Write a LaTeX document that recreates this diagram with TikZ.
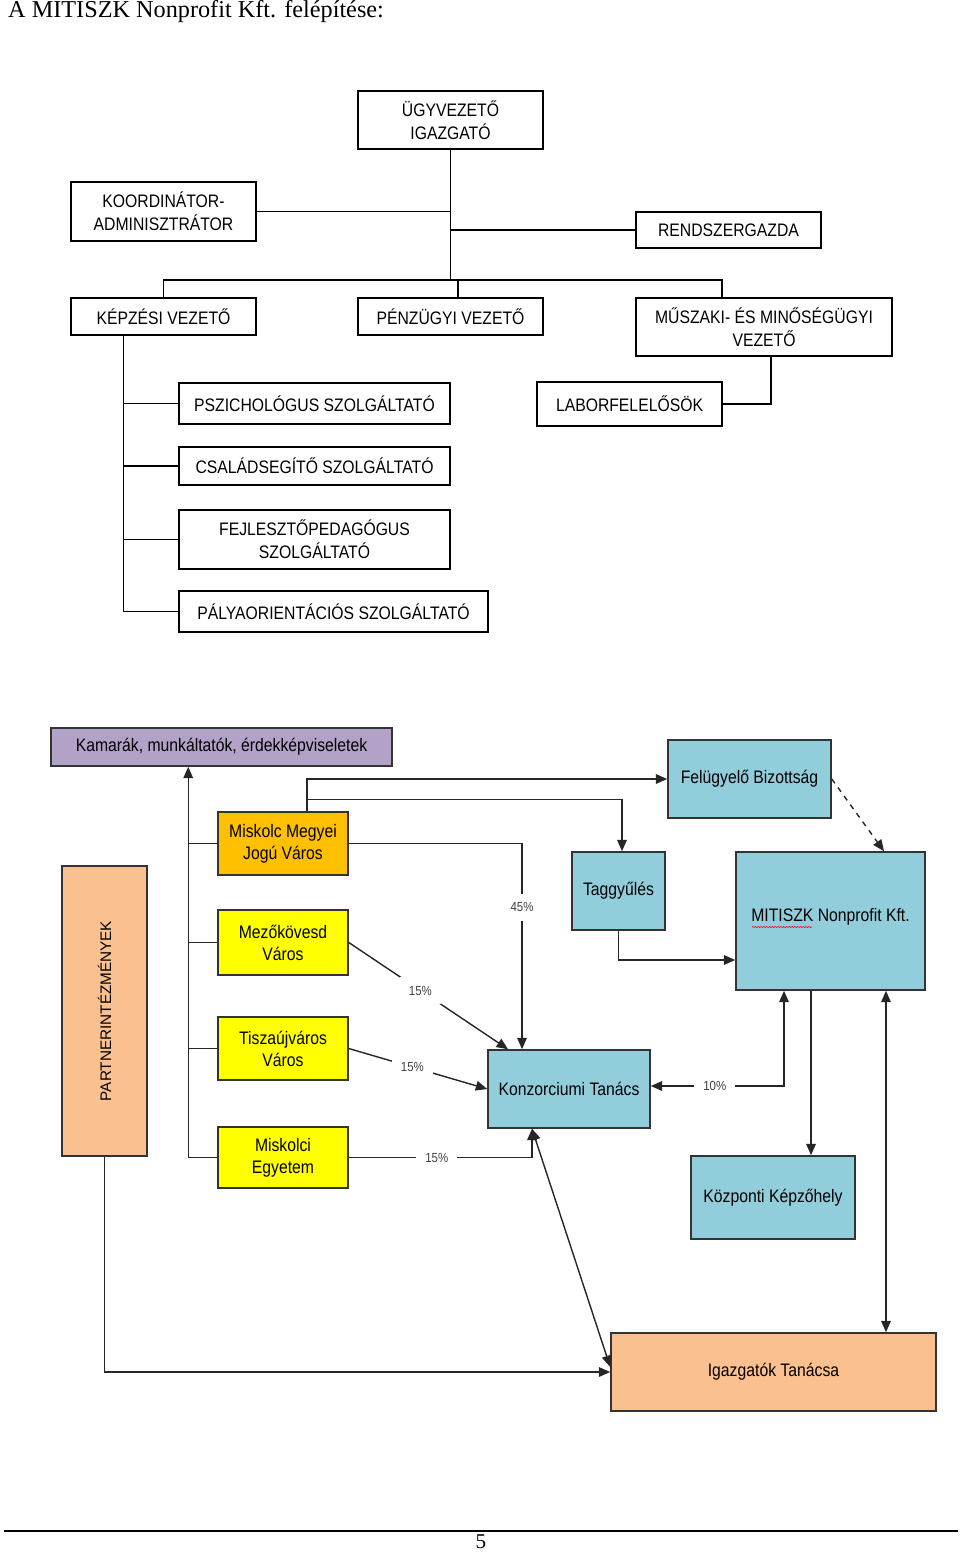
\documentclass[tikz,border=0pt]{standalone}
\usepackage{fontspec}
\setmainfont{Liberation Serif}
\newfontfamily\narrowsans[FakeStretch=0.87]{Liberation Sans}
\newfontfamily\plainsans{Liberation Sans}
\usetikzlibrary{arrows.meta,decorations.pathmorphing}

\definecolor{lilac}{HTML}{B3A2C7}
\definecolor{skyblock}{HTML}{92CDDC}
\definecolor{amber}{HTML}{FFC000}
\definecolor{lemon}{HTML}{FFFF00}
\definecolor{peach}{HTML}{FAC090}

\tikzset{
  orgbox/.style={draw, line width=1.1pt, align=center, inner sep=0pt,
    font=\narrowsans\fontsize{10.3}{13}\selectfont},
  blockbox/.style={draw=black!80, line width=0.9pt, align=center, inner sep=0pt,
    font=\narrowsans\fontsize{10.3}{12.5}\selectfont},
  pct/.style={fill=white, inner sep=5pt, text=black!75,
    font=\narrowsans\fontsize{7.5}{9}\selectfont}
}

\begin{document}
\begin{tikzpicture}[x=0.02cm,y=-0.02cm,>={Triangle[length=6.5pt,width=5.5pt]}]
\useasboundingbox (0,0) rectangle (960,1552);
\node[anchor=west,font=\fontsize{13.8}{16}\selectfont] (title) at (2,12) {A MITISZK Nonprofit Kft. felépítése:};

% szervezeti felepites
\node[orgbox,minimum width=3.7cm,minimum height=1.16cm] (ugy) at (450.5,120) {ÜGYVEZETŐ\\IGAZGATÓ};
\node[orgbox,minimum width=3.7cm,minimum height=1.18cm] (koord) at (163.5,211.5) {KOORDINÁTOR-\\ADMINISZTRÁTOR};
\node[orgbox,minimum width=3.7cm,minimum height=0.72cm] (rendsz) at (728.5,230) {RENDSZERGAZDA};
\node[orgbox,minimum width=3.7cm,minimum height=0.74cm] (kepz) at (163.5,316.5) {KÉPZÉSI VEZETŐ};
\node[orgbox,minimum width=3.7cm,minimum height=0.74cm] (penz) at (450.5,316.5) {PÉNZÜGYI VEZETŐ};
\node[orgbox,minimum width=5.12cm,minimum height=1.16cm] (musz) at (764,327) {MŰSZAKI- ÉS MINŐSÉGÜGYI\\VEZETŐ};
\node[orgbox,minimum width=5.42cm,minimum height=0.82cm] (pszi) at (314.5,403.5) {PSZICHOLÓGUS SZOLGÁLTATÓ};
\node[orgbox,minimum width=5.42cm,minimum height=0.76cm] (csal) at (314.5,466) {CSALÁDSEGÍTŐ SZOLGÁLTATÓ};
\node[orgbox,minimum width=5.42cm,minimum height=1.18cm] (fejl) at (314.5,539.5) {FEJLESZTŐPEDAGÓGUS\\SZOLGÁLTATÓ};
\node[orgbox,minimum width=6.18cm,minimum height=0.82cm] (palya) at (333.5,611.5) {PÁLYAORIENTÁCIÓS SZOLGÁLTATÓ};
\node[orgbox,minimum width=3.7cm,minimum height=0.88cm] (labor) at (629.5,404) {LABORFELELŐSÖK};

\coordinate (bar) at (450.5,280);
\coordinate (kv) at ([xshift=-0.8cm]kepz.south);
\draw[line width=1.1pt] (ugy.south) -- (bar);
\draw[line width=1.1pt] (koord.east) -- (koord.east -| ugy.south);
\draw[line width=1.1pt] (rendsz.west) -- (rendsz.west -| ugy.south);
\draw[line width=1.1pt] (kepz.north) |- (bar) -| ([xshift=-0.84cm]musz.north);
\draw[line width=1.1pt] ([xshift=0.15cm]penz.north) -- ([xshift=0.15cm]penz.north |- bar);
\draw[line width=1.1pt] (kv) |- (palya.west);
\foreach \n in {pszi,csal,fejl}
  \draw[line width=1.1pt] (\n.west) -- (\n.west -| kv);
\draw[line width=1.1pt] ([xshift=0.14cm]musz.south) |- (labor.east);

% konzorcium
\node[blockbox,fill=lilac,minimum width=6.82cm,minimum height=0.76cm] (kamara) at (221.5,747) {Kamarák, munkáltatók, érdekképviseletek};
\node[blockbox,fill=skyblock,minimum width=3.26cm,minimum height=1.56cm] (felugy) at (749.5,779) {Felügyelő Bizottság};
\node[blockbox,fill=amber,minimum width=2.6cm,minimum height=1.26cm] (miskolc) at (283,843.5) {Miskolc Megyei\\Jogú Város};
\node[blockbox,fill=lemon,minimum width=2.6cm,minimum height=1.3cm] (mezo) at (283,942.5) {Mezőkövesd\\Város};
\node[blockbox,fill=lemon,minimum width=2.6cm,minimum height=1.26cm] (tisza) at (283,1048.5) {Tiszaújváros\\Város};
\node[blockbox,fill=lemon,minimum width=2.6cm,minimum height=1.22cm] (egyetem) at (283,1157.5) {Miskolci\\Egyetem};
\node[blockbox,fill=peach,minimum width=1.7cm,minimum height=5.8cm,font=\plainsans\fontsize{8.7}{10}\selectfont] (partner) at (104.5,1011) {\rotatebox{90}{PARTNERINTÉZMÉNYEK}};
\node[blockbox,fill=skyblock,minimum width=1.86cm,minimum height=1.56cm] (tagg) at (618.5,891) {Taggyűlés};
\node[blockbox,fill=skyblock,minimum width=3.78cm,minimum height=2.76cm] (mitiszk) at (830.5,921) {\raisebox{0.25cm}{MITISZK Nonprofit Kft.}};
\node[blockbox,fill=skyblock,minimum width=3.24cm,minimum height=1.56cm] (konz) at (569,1089) {Konzorciumi Tanács};
\node[blockbox,fill=skyblock,minimum width=3.28cm,minimum height=1.66cm] (kozp) at (773,1197.5) {Központi Képzőhely};
\node[blockbox,fill=peach,minimum width=6.5cm,minimum height=1.56cm] (igazg) at (773.5,1372) {Igazgatók Tanácsa};
\draw[red,line width=0.3pt,decorate,decoration={zigzag,amplitude=0.35pt,segment length=1.6pt}] (752,927) -- (812,927);

\coordinate (bus) at ([xshift=-0.58cm]egyetem.west);
\coordinate (mtop) at ([xshift=0.48cm]miskolc.north);
\coordinate (kin) at ([xshift=-0.74cm]konz.south);
\begin{scope}[line width=0.8pt,draw=black!85]
\draw[->] (bus) -- (bus |- kamara.south);
\foreach \n in {miskolc,mezo,tisza,egyetem}
  \draw (\n.west) -- (\n.west -| bus);
\draw[->] (mtop) |- (felugy.west);
\draw[->] ([yshift=0.24cm]mtop) -| ([xshift=0.07cm]tagg.north);
\draw[->] (miskolc.east) -| node[pct,pos=0.655] {45\%} ([xshift=-0.94cm]konz.north);
\draw[->] (mezo.east) -- node[pct,pos=0.45] {15\%} ([xshift=-1.22cm]konz.north);
\draw[->] (tisza.east) -- node[pct,pos=0.46] {15\%} (konz.west);
\draw[->] (egyetem.east) -| node[pct,pos=0.24] {15\%} (kin);
\draw[<->] (kin) -- ([yshift=0.1cm]igazg.west);
\draw[->] (partner.south) |- (igazg.west);
\draw[->,dashed] (felugy.east) -- ([xshift=1.07cm]mitiszk.north);
\draw[->] (tagg.south) |- ([yshift=-0.78cm]mitiszk.west);
\draw[<->] ([xshift=-0.93cm]mitiszk.south) |- node[pct,pos=0.76] {10\%} ([yshift=0.06cm]konz.east);
\draw[->] ([xshift=-0.39cm]mitiszk.south) -- ([xshift=-0.39cm]mitiszk.south |- kozp.north);
\draw[<->] ([xshift=1.11cm]mitiszk.south) -- ([xshift=1.11cm]mitiszk.south |- igazg.north);
\end{scope}

% lab
\draw[line width=0.8pt] (4,1531) -- (958,1531);
\node[font=\fontsize{12}{14}\selectfont,inner sep=0pt] (page) at (481,1542) {5};
\end{tikzpicture}
\end{document}
